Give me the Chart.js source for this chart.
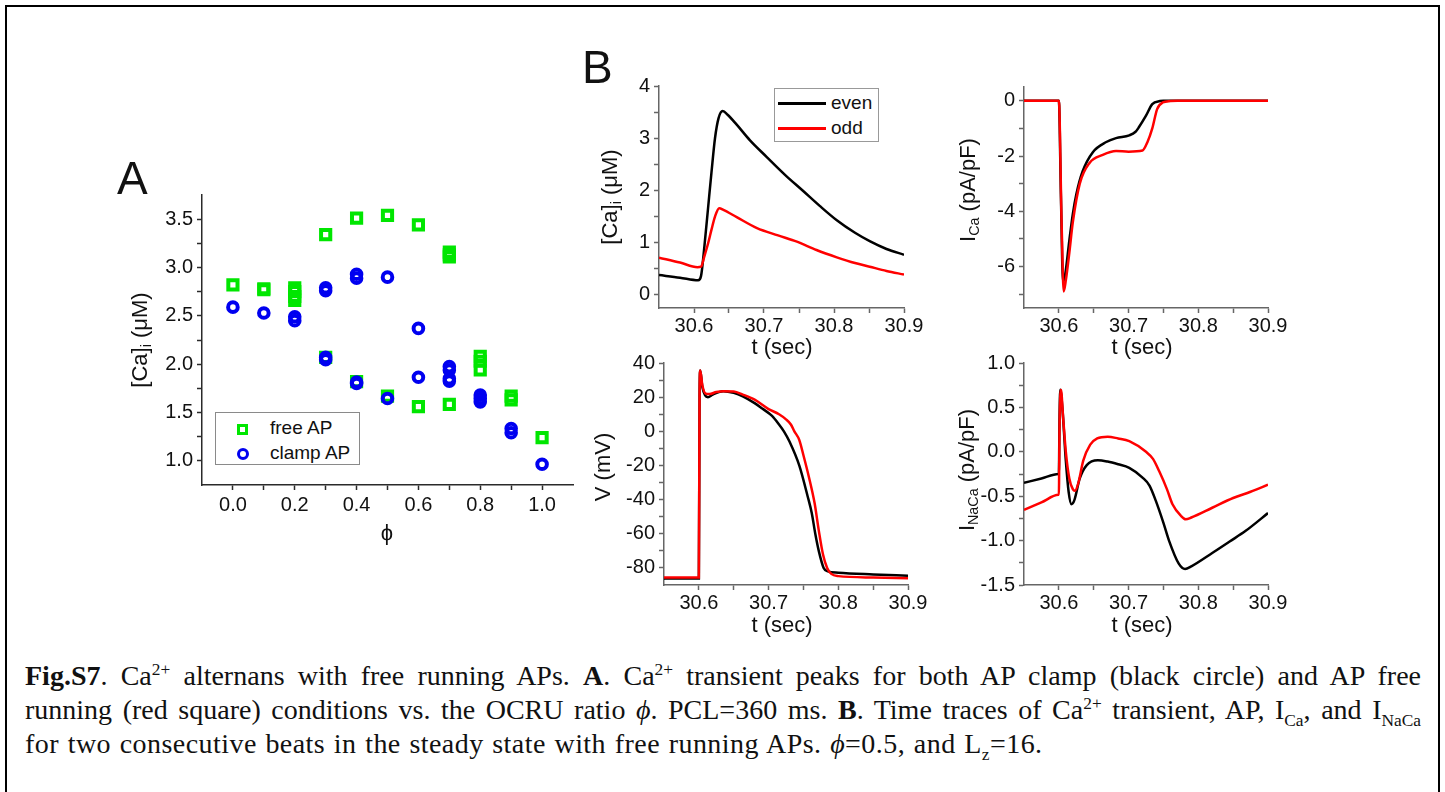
<!DOCTYPE html>
<html>
<head>
<meta charset="utf-8">
<script src="https://cdn.jsdelivr.net/npm/chart.js@4.4.0/dist/chart.umd.min.js"></script>
<style>
  body { margin: 0; width: 1445px; height: 792px; background: #fff; position: relative; overflow: hidden;
         font-family: 'Liberation Sans', Arial, sans-serif; color: #111; }
  #frame { position: absolute; left: 5px; top: 5px; width: 1435px; height: 820px; border: 2px solid #000; box-sizing: border-box; }
  canvas { position: absolute; }
  .lbl { position: absolute; white-space: nowrap; font-size: 22px; line-height: 1; }
  .rot { transform: translate(-50%, -50%) rotate(-90deg); }
  .ctr { transform: translate(-50%, -50%); }
  .lbl sub { font-size: 65%; line-height: 0; vertical-align: -0.3em; }
  .big { position: absolute; font-size: 46px; line-height: 1; }
  .legend { position: absolute; border: 1.5px solid #8a8a8a; box-sizing: border-box; background: #fff; font-size: 19px; }
  .legend .row { position: absolute; left: 0; white-space: nowrap; }
  #cap { position: absolute; left: 25px; width: 1396px; top: 659px; font-family: 'Liberation Serif', 'Times New Roman', serif; font-size: 28px; }
  #cap .ln { height: 34px; line-height: 34px; white-space: nowrap; }
  #cap .j { text-align: justify; text-align-last: justify; white-space: normal; }
  #cap sup, #cap sub { font-size: 62%; line-height: 0; }
</style>
</head>
<body>
<div id="frame"></div>

<canvas id="chartA"></canvas>
<canvas id="chartCa"></canvas>
<canvas id="chartICa"></canvas>
<canvas id="chartV"></canvas>
<canvas id="chartNCX"></canvas>

<div class="big" style="left:117px; top:155px;">A</div>
<div class="big" style="left:582px; top:44px;">B</div>

<div class="lbl rot" style="left:140px; top:340px;">[Ca]<sub>i</sub> (μM)</div>
<div class="lbl ctr" style="left:387px; top:533px;">ϕ</div>

<div class="lbl rot" style="left:610px; top:197px;">[Ca]<sub>i</sub> (μM)</div>
<div class="lbl rot" style="left:968px; top:190px;">I<sub>Ca</sub> (pA/pF)</div>
<div class="lbl rot" style="left:603px; top:467px;">V (mV)</div>
<div class="lbl rot" style="left:967px; top:470px;">I<sub>NaCa</sub> (pA/pF)</div>
<div class="lbl ctr" style="left:782px; top:347px;">t (sec)</div>
<div class="lbl ctr" style="left:1142px; top:347px;">t (sec)</div>
<div class="lbl ctr" style="left:782px; top:625px;">t (sec)</div>
<div class="lbl ctr" style="left:1142px; top:625px;">t (sec)</div>

<div class="legend" style="left:215px; top:412px; width:145px; height:53px;">
  <div class="row" style="top:3px;">
    <span style="position:absolute; left:21px; top:8px; width:11px; height:11px; border:3px solid #00e600; box-sizing:border-box;"></span>
    <span style="position:absolute; left:54px; top:1px;">free AP</span>
  </div>
  <div class="row" style="top:28px;">
    <span style="position:absolute; left:21px; top:7px; width:12px; height:12px; border:3px solid #0000f0; border-radius:50%; box-sizing:border-box;"></span>
    <span style="position:absolute; left:54px; top:1px;">clamp AP</span>
  </div>
</div>

<div class="legend" style="left:774px; top:88px; width:105px; height:54px; border-color:#999;">
  <div style="position:absolute; left:3px; top:13px; width:48px; height:2.5px; background:#000;"></div>
  <div style="position:absolute; left:56px; top:3px;">even</div>
  <div style="position:absolute; left:3px; top:38px; width:48px; height:2.5px; background:#f00;"></div>
  <div style="position:absolute; left:56px; top:28px;">odd</div>
</div>

<div id="cap">
  <div class="ln j"><b>Fig.S7</b>. Ca<sup>2+</sup> alternans with free running APs. <b>A</b>. Ca<sup>2+</sup> transient peaks for both AP clamp (black circle) and AP free</div>
  <div class="ln j">running (red square) conditions vs. the OCRU ratio <i>ϕ</i>. PCL=360 ms. <b>B</b>. Time traces of Ca<sup>2+</sup> transient, AP, I<sub>Ca</sub>, and I<sub>NaCa</sub></div>
  <div class="ln" style="letter-spacing:0.45px; word-spacing:1.2px;">for two consecutive beats in the steady state with free running APs. <i>ϕ</i>=0.5, and L<sub>z</sub>=16.</div>
</div>

<script>
// ---------- panel A: Ca transient peaks vs phi ----------
const phiFree = [0, 0.1, 0.1, 0.2, 0.2, 0.2, 0.2, 0.3, 0.3, 0.4, 0.4, 0.5, 0.5, 0.6, 0.6,
                 0.7, 0.7, 0.7, 0.7, 0.8, 0.8, 0.8, 0.9, 0.9, 1.0];
const caFree  = [2.82, 2.78, 2.77, 2.79, 2.75, 2.70, 2.66, 3.34, 2.07, 3.51, 1.82, 3.54, 1.67, 3.44, 1.56,
                 3.16, 3.13, 3.11, 1.585, 2.08, 2.03, 1.94, 1.67, 1.63, 1.24];
const phiClamp = [0, 0.1, 0.2, 0.2, 0.3, 0.3, 0.3, 0.3, 0.4, 0.4, 0.4, 0.4, 0.5, 0.5, 0.6, 0.6,
                  0.7, 0.7, 0.7, 0.7, 0.8, 0.8, 0.8, 0.9, 0.9, 1.0];
const caClamp  = [2.59, 2.53, 2.49, 2.45, 2.79, 2.76, 2.07, 2.045, 2.93, 2.89, 1.815, 1.80, 2.90, 1.645, 2.37, 1.865,
                  1.975, 1.94, 1.85, 1.825, 1.68, 1.645, 1.61, 1.335, 1.29, 0.965];
const aXMajor = [0, 0.2, 0.4, 0.6, 0.8, 1.0];
const aXMinor = [0.1, 0.3, 0.5, 0.7, 0.9];
const aYMajor = [1.0, 1.5, 2.0, 2.5, 3.0, 3.5];
const aYMinor = [1.25, 1.75, 2.25, 2.75, 3.25];

// ---------- panel B: time traces (even / odd beats) ----------
const tMajor = [30.6, 30.7, 30.8, 30.9];
const tMinor = [30.65, 30.75, 30.85];

const caEvenT = [30.55, 30.58, 30.606, 30.61, 30.615, 30.62, 30.625, 30.63, 30.635, 30.641, 30.648, 30.661, 30.68,
                 30.704, 30.73, 30.756, 30.78, 30.804, 30.83, 30.851, 30.875, 30.9];
const caEven  = [0.38, 0.33, 0.28, 0.36, 0.95, 1.65, 2.35, 3.0, 3.38, 3.52, 3.45, 3.26, 2.96,
                 2.64, 2.30, 1.99, 1.70, 1.43, 1.19, 1.03, 0.88, 0.77];
const caOddT  = [30.55, 30.58, 30.605, 30.61, 30.615, 30.62, 30.625, 30.63, 30.636, 30.642, 30.661, 30.69,
                 30.72, 30.747, 30.775, 30.804, 30.83, 30.851, 30.875, 30.9];
const caOdd   = [0.715, 0.62, 0.53, 0.54, 0.75, 0.98, 1.25, 1.50, 1.66, 1.63, 1.49, 1.28,
                 1.14, 1.02, 0.86, 0.72, 0.61, 0.54, 0.46, 0.39];
const caYMajor = [0, 1, 2, 3, 4];
const caYMinor = [0.5, 1.5, 2.5, 3.5];

const icaEvenT = [30.55, 30.5995, 30.6, 30.603, 30.606, 30.609, 30.615, 30.62, 30.625, 30.634, 30.649, 30.668, 30.682,
                  30.701, 30.71, 30.715, 30.725, 30.734, 30.745, 30.75, 30.9];
const icaEven  = [0, 0, 0, -3.5, -6.55, -6.3, -5.06, -4.1, -3.39, -2.56, -1.85, -1.49, -1.35,
                  -1.25, -1.12, -0.95, -0.54, -0.12, -0.01, 0, 0];
const icaOddT  = [30.55, 30.5995, 30.6, 30.604, 30.607, 30.61, 30.615, 30.62, 30.63, 30.644, 30.663, 30.682, 30.70,
                  30.72, 30.727, 30.734, 30.741, 30.749, 30.76, 30.77, 30.9];
const icaOdd   = [0, 0, 0, -4.5, -6.9, -6.5, -5.5, -4.4, -3.0, -2.25, -1.96, -1.82, -1.84,
                  -1.80, -1.5, -1.0, -0.3, -0.06, -0.01, 0, 0];
const icaYMajor = [0, -2, -4, -6];
const icaYMinor = [-1, -3, -5, -7];

const vEvenT = [30.55, 30.5995, 30.6, 30.601, 30.602, 30.605, 30.609, 30.613, 30.62, 30.635, 30.65, 30.663, 30.68, 30.691,
                30.705, 30.715, 30.722, 30.73, 30.744, 30.756, 30.762, 30.767, 30.772, 30.779, 30.785, 30.8, 30.85, 30.9];
const vEven  = [-86.2, -86.2, -86.2, 20, 35.6, 26, 21, 20.0, 21.5, 23.5, 22.5, 20.5, 16.5, 13.3,
                9, 4.0, 0, -6, -20, -38, -48, -60, -70, -80, -82, -82.8, -83.8, -84.6];
const vOddT  = [30.55, 30.5995, 30.6, 30.601, 30.602, 30.605, 30.61, 30.615, 30.625, 30.635, 30.65, 30.663, 30.68, 30.70,
                30.715, 30.725, 30.732, 30.737, 30.744, 30.75, 30.758, 30.766, 30.772, 30.778, 30.784, 30.79, 30.8, 30.85, 30.9];
const vOdd   = [-85.6, -85.6, -85.6, 20, 35.6, 27, 22, 21.8, 23, 23.5, 23.3, 21.5, 18.5, 13,
                10, 7, 4, 0, -5, -14, -27, -42, -58, -72, -80, -83.5, -84.8, -85.6, -86];
const vYMajor = [40, 20, 0, -20, -40, -60, -80];
const vYMinor = [30, 10, -10, -30, -50, -70];

const ncxEvenT = [30.55, 30.575, 30.5995, 30.6, 30.601, 30.602, 30.605, 30.61, 30.614, 30.618, 30.622, 30.63, 30.64, 30.656, 30.67,
                  30.685, 30.701, 30.72, 30.73, 30.739, 30.75, 30.758, 30.772, 30.781, 30.79, 30.82, 30.845, 30.868, 30.9];
const ncxEven  = [-0.35, -0.30, -0.25, -0.25, 0.4, 0.70, 0.5, -0.1, -0.45, -0.59, -0.55, -0.3, -0.15, -0.095, -0.11,
                  -0.14, -0.18, -0.29, -0.38, -0.55, -0.80, -1.0, -1.26, -1.32, -1.29, -1.14, -1.01, -0.89, -0.69];
const ncxOddT  = [30.55, 30.575, 30.5995, 30.6, 30.601, 30.603, 30.606, 30.61, 30.615, 30.62, 30.623, 30.628, 30.635, 30.645, 30.655,
                  30.67, 30.685, 30.701, 30.725, 30.735, 30.744, 30.755, 30.763, 30.775, 30.782, 30.79, 30.82, 30.85, 30.875, 30.9];
const ncxOdd   = [-0.655, -0.57, -0.485, -0.485, 0.3, 0.70, 0.4, 0.0, -0.3, -0.42, -0.44, -0.35, -0.1, 0.08, 0.15,
                  0.17, 0.15, 0.12, 0.0, -0.08, -0.22, -0.42, -0.59, -0.72, -0.76, -0.74, -0.63, -0.52, -0.45, -0.37];
const ncxYMajor = [1.0, 0.5, 0, -0.5, -1.0, -1.5];
const ncxYMinor = [0.75, 0.25, -0.25, -0.75, -1.25];

const pts = (xs, ys) => xs.map((x, i) => ({ x: x, y: ys[i] }));

function axis(min, max, major, minor, fmt, color, pad) {
  const all = major.concat(minor).sort((a, b) => a - b);
  return {
    type: 'linear', min: min, max: max,
    afterBuildTicks: s => { s.ticks = all.map(v => ({ value: v })); },
    ticks: {
      autoSkip: false, maxRotation: 0, padding: pad, color: '#111',
      font: { family: 'Liberation Sans', size: 20 },
      callback: v => major.includes(v) ? fmt(v) : ''
    },
    grid: { drawOnChartArea: false, drawTicks: true, tickLength: 5, tickColor: color, tickWidth: 1.5 },
    border: { display: true, color: color, width: 1.5 }
  };
}

// area = pixel box of the plot area on the page
function plot(id, area, xAx, yAx, datasets) {
  const yw = 70, xh = 60, padT = 14, padR = 30;
  const cv = document.getElementById(id);
  const w = area.r - area.l + yw + padR, h = area.b - area.t + padT + xh;
  cv.width = w; cv.height = h;
  cv.style.width = w + 'px'; cv.style.height = h + 'px';
  cv.style.left = (area.l - yw) + 'px'; cv.style.top = (area.t - padT) + 'px';
  xAx.afterFit = s => { s.height = xh; };
  yAx.afterFit = s => { s.width = yw; };
  return new Chart(cv, {
    type: 'scatter',
    data: { datasets: datasets },
    options: {
      responsive: false, animation: false, devicePixelRatio: 1,
      layout: { padding: { top: padT, right: padR, left: 0, bottom: 0 } },
      plugins: { legend: { display: false }, tooltip: { enabled: false } },
      scales: { x: xAx, y: yAx }
    }
  });
}

const f1 = v => v.toFixed(1);
const f0 = v => String(v);
const gA = '#2a2a2a', gB = '#666';

plot('chartA', { l: 202, t: 193, r: 573, b: 485 },
  axis(-0.1, 1.1, aXMajor, aXMinor, f1, gA, 3),
  axis(0.75, 3.75, aYMajor, aYMinor, f1, gA, 4),
  [
    { label: 'free AP', data: pts(phiFree, caFree), order: 2, pointStyle: 'rect', pointRadius: 6.5,
      borderColor: '#00e600', backgroundColor: 'rgba(0,0,0,0)', borderWidth: 4 },
    { label: 'clamp AP', data: pts(phiClamp, caClamp), order: 1, pointStyle: 'circle', pointRadius: 4.8,
      borderColor: '#0000f0', backgroundColor: 'rgba(0,0,0,0)', borderWidth: 4 }
  ]);

function traces(evenT, even, oddT, odd) {
  const common = { showLine: true, pointRadius: 0, borderWidth: 2.5, cubicInterpolationMode: 'monotone', fill: false };
  return [
    Object.assign({ label: 'even', data: pts(evenT, even), borderColor: '#000', order: 2 }, common),
    Object.assign({ label: 'odd', data: pts(oddT, odd), borderColor: '#ff0000', order: 1 }, common)
  ];
}

plot('chartCa', { l: 659, t: 84, r: 904, b: 308 },
  axis(30.55, 30.9, tMajor, tMinor, f1, gB, 1.5),
  axis(-0.25, 4, caYMajor, caYMinor, f0, gB, 4),
  traces(caEvenT, caEven, caOddT, caOdd));

plot('chartICa', { l: 1024, t: 85, r: 1268, b: 308 },
  axis(30.55, 30.9, tMajor, tMinor, f1, gB, 1.5),
  axis(-7.5, 0.5, icaYMajor, icaYMinor, f0, gB, 4),
  traces(icaEvenT, icaEven, icaOddT, icaOdd));

plot('chartV', { l: 664, t: 361, r: 908, b: 585 },
  axis(30.55, 30.9, tMajor, tMinor, f1, gB, 1.5),
  axis(-90, 40, vYMajor, vYMinor, f0, gB, 4),
  traces(vEvenT, vEven, vOddT, vOdd));

plot('chartNCX', { l: 1024, t: 361, r: 1268, b: 585 },
  axis(30.55, 30.9, tMajor, tMinor, f1, gB, 1.5),
  axis(-1.5, 1.0, ncxYMajor, ncxYMinor, f1, gB, 4),
  traces(ncxEvenT, ncxEven, ncxOddT, ncxOdd));
</script>
</body>
</html>
